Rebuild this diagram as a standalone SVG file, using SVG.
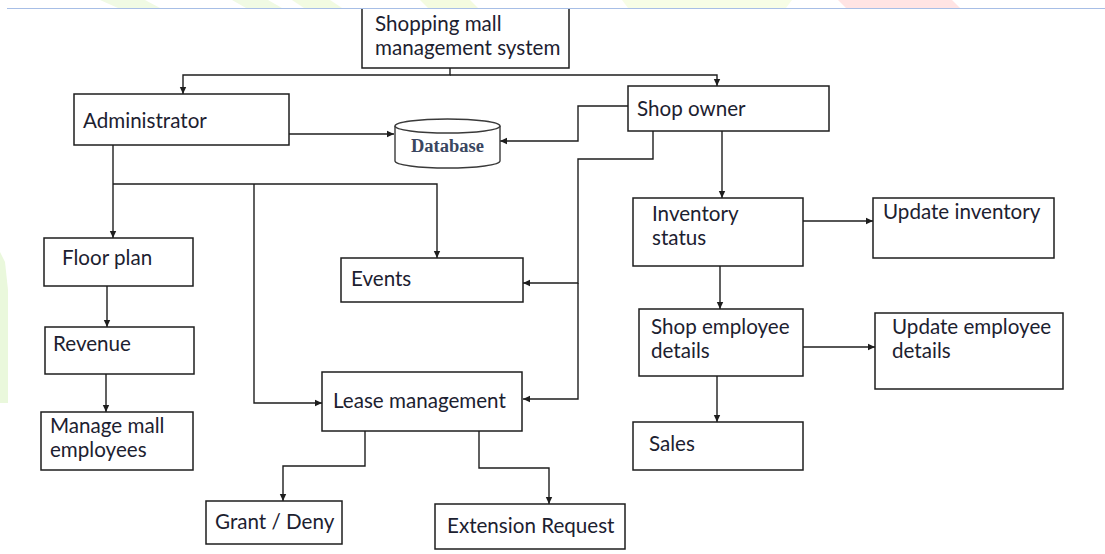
<svg xmlns="http://www.w3.org/2000/svg" width="1105" height="554" viewBox="0 0 1105 554">
  <style>
    .box { fill: #ffffff; stroke: #1e1e1e; stroke-width: 1.5; }
    .lbl { font-family: Lato, "Liberation Sans", sans-serif; font-size: 20.6px; fill: #1c2130; }
    .db { font-family: "Liberation Serif", serif; font-size: 18.5px; font-weight: bold; fill: #3a4660; }
    .wire { fill: none; stroke: #1e1e1e; stroke-width: 1.4; }
    .arrow { marker-end: url(#head); }
    .mark { stroke: none; }
  </style>
  <defs>
    <marker id="head" markerUnits="userSpaceOnUse" markerWidth="8" markerHeight="8" refX="7" refY="4" orient="auto">
      <path d="M0,0.8 L7,4 L0,7.2 z" fill="#1e1e1e"/>
    </marker>
  </defs>

  <rect width="1105" height="554" fill="#ffffff"/>

  <!-- faint page watermark shapes -->
  <g id="watermark" class="mark">
    <polygon points="100,0 145,0 160,8 118,8" fill="#f0fae4"/>
    <polygon points="232,0 268,0 282,8 246,8" fill="#f0fae4"/>
    <polygon points="292,0 330,0 342,8 304,8" fill="#f2fbe2"/>
    <polygon points="420,0 470,0 478,8 428,8" fill="#f4fbe0"/>
    <polygon points="622,0 792,0 786,8 628,8" fill="#f7fde6"/>
    <polygon points="838,0 952,0 960,8 846,8" fill="#ffe4e4"/>
    <polygon points="0,252 5,262 8,290 8,403 0,403" fill="#eaf8dc"/>
  </g>

  <!-- page rule -->
  <line x1="7" y1="8.5" x2="1105" y2="8.5" stroke="#a7bee6" stroke-width="1.2"/>

  <!-- connectors -->
  <g id="connectors" class="wire">
    <path d="M450,68 V75 H183 V94" class="arrow"/>
    <path d="M450,75 H717 V86" class="arrow"/>
    <path d="M289,134 H394" class="arrow"/>
    <path d="M628,106 H578 V141 H500" class="arrow"/>
    <path d="M653,131 V159 H578 V283 H523" class="arrow"/>
    <path d="M578,283 V399 H523" class="arrow"/>
    <path d="M722,131 V198" class="arrow"/>
    <path d="M113,145 V238" class="arrow"/>
    <path d="M113,184 H437 V258" class="arrow"/>
    <path d="M254,184 V403 H322" class="arrow"/>
    <path d="M107,286 V327" class="arrow"/>
    <path d="M106,374 V412" class="arrow"/>
    <path d="M365,431 V466 H283 V501" class="arrow"/>
    <path d="M479,431 V468 H549 V504" class="arrow"/>
    <path d="M803,221 H873" class="arrow"/>
    <path d="M720,266 V309" class="arrow"/>
    <path d="M803,347 H875" class="arrow"/>
    <path d="M717,376 V422" class="arrow"/>
  </g>

  <g id="system">
    <path d="M362,9 V68 H569 V9" fill="#ffffff" stroke="#1e1e1e" stroke-width="1.5"/>
    <text class="lbl" x="375" y="31">Shopping mall</text>
    <text class="lbl" x="375" y="55">management system</text>
  </g>

  <g id="administrator">
    <rect class="box" x="74" y="94" width="215" height="51"/>
    <text class="lbl" x="83" y="128">Administrator</text>
  </g>

  <g id="database">
    <path d="M395,126 V161 A52.5,7 0 0 0 500,161 V126" fill="#ffffff" stroke="#3a3a3a" stroke-width="1.4"/>
    <ellipse cx="447.5" cy="126" rx="52.5" ry="7" fill="#ffffff" stroke="#3a3a3a" stroke-width="1.4"/>
    <text class="db" x="447.5" y="152" text-anchor="middle">Database</text>
  </g>

  <g id="shop-owner">
    <rect class="box" x="628" y="86" width="201" height="45"/>
    <text class="lbl" x="637" y="116">Shop owner</text>
  </g>

  <g id="floor-plan">
    <rect class="box" x="44" y="238" width="149" height="48"/>
    <text class="lbl" x="62" y="265">Floor plan</text>
  </g>

  <g id="revenue">
    <rect class="box" x="45" y="327" width="149" height="47"/>
    <text class="lbl" x="53" y="351">Revenue</text>
  </g>

  <g id="manage-employees">
    <rect class="box" x="41" y="412" width="152" height="58"/>
    <text class="lbl" x="50" y="433">Manage mall</text>
    <text class="lbl" x="50" y="457">employees</text>
  </g>

  <g id="events">
    <rect class="box" x="341" y="258" width="182" height="44"/>
    <text class="lbl" x="351" y="286">Events</text>
  </g>

  <g id="lease">
    <rect class="box" x="322" y="372" width="200" height="59"/>
    <text class="lbl" x="333" y="408">Lease management</text>
  </g>

  <g id="grant-deny">
    <rect class="box" x="206" y="501" width="136" height="43"/>
    <text class="lbl" x="215" y="529">Grant / Deny</text>
  </g>

  <g id="extension">
    <rect class="box" x="435" y="504" width="190" height="45"/>
    <text class="lbl" x="447" y="533">Extension Request</text>
  </g>

  <g id="inventory">
    <rect class="box" x="633" y="198" width="170" height="68"/>
    <text class="lbl" x="652" y="221">Inventory</text>
    <text class="lbl" x="652" y="245">status</text>
  </g>

  <g id="update-inventory">
    <rect class="box" x="873" y="198" width="181" height="60"/>
    <text class="lbl" x="883" y="219">Update inventory</text>
  </g>

  <g id="shop-employee">
    <rect class="box" x="639" y="309" width="164" height="67"/>
    <text class="lbl" x="651" y="334">Shop employee</text>
    <text class="lbl" x="651" y="358">details</text>
  </g>

  <g id="update-employee">
    <rect class="box" x="875" y="313" width="188" height="76"/>
    <text class="lbl" x="892" y="334">Update employee</text>
    <text class="lbl" x="892" y="358">details</text>
  </g>

  <g id="sales">
    <rect class="box" x="633" y="422" width="170" height="48"/>
    <text class="lbl" x="649" y="451">Sales</text>
  </g>
</svg>
